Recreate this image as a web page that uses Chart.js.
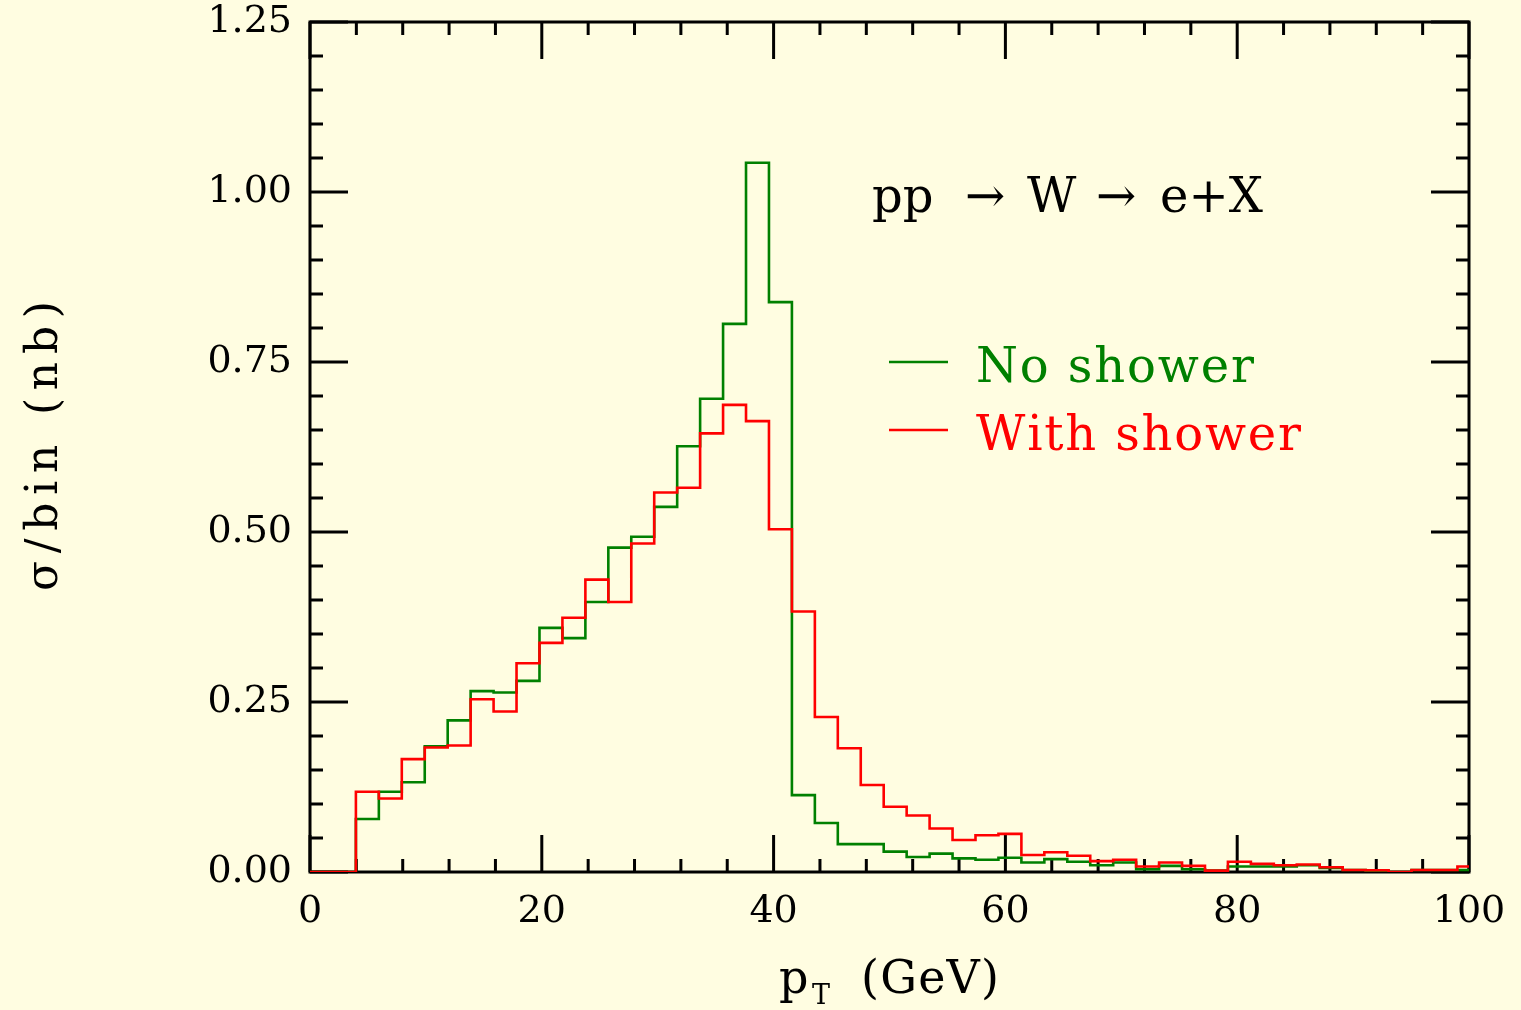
<!DOCTYPE html>
<html>
<head>
<meta charset="utf-8">
<script src="https://cdn.jsdelivr.net/npm/chart.js@4.4.0/dist/chart.umd.min.js"></script>
<style>
html,body{margin:0;padding:0;background:#fffde1;overflow:hidden}
canvas{display:block}
</style>
</head>
<body>
<canvas id="c" width="1521" height="1010"></canvas>
<script>
// ---- data ----
// lower bin edges (GeV); last entry is the end of the plotted range
const binEdges = [0, 1.98, 3.96, 5.94, 7.92, 9.9, 11.88, 13.86, 15.84, 17.82,
  19.8, 21.78, 23.76, 25.74, 27.72, 29.7, 31.68, 33.66, 35.64, 37.62,
  39.6, 41.58, 43.56, 45.54, 47.52, 49.5, 51.48, 53.46, 55.44, 57.42,
  59.4, 61.38, 63.36, 65.34, 67.32, 69.3, 71.28, 73.26, 75.24, 77.22,
  79.2, 81.18, 83.16, 85.14, 87.12, 89.1, 91.08, 93.06, 95.04, 97.02,
  99.0, 100];
const noShower = [0, 0, 0.078, 0.118, 0.132, 0.185, 0.223, 0.266, 0.264, 0.281,
  0.359, 0.344, 0.397, 0.477, 0.493, 0.537, 0.626, 0.696, 0.806, 1.043,
  0.838, 0.113, 0.072, 0.041, 0.041, 0.030, 0.022, 0.027, 0.020, 0.018,
  0.021, 0.014, 0.019, 0.015, 0.010, 0.014, 0.004, 0.009, 0.004, 0.002,
  0.008, 0.008, 0.008, 0.010, 0.006, 0.003, 0.002, 0.000, 0.003, 0.003,
  0.003];
const withShower = [0, 0, 0.118, 0.108, 0.166, 0.183, 0.186, 0.254, 0.236, 0.307,
  0.337, 0.374, 0.430, 0.397, 0.483, 0.558, 0.565, 0.645, 0.687, 0.663,
  0.504, 0.383, 0.228, 0.182, 0.128, 0.096, 0.083, 0.064, 0.047, 0.054,
  0.056, 0.025, 0.029, 0.024, 0.016, 0.018, 0.008, 0.014, 0.009, 0.002,
  0.015, 0.012, 0.010, 0.011, 0.007, 0.003, 0.0025, 0.000, 0.003, 0.003,
  0.008];
const seriesLabels = ['No shower', 'With shower'];
const seriesColors = ['#008000', '#ff0000'];
const xTickValues = [0, 20, 40, 60, 80, 100];
const yTickValues = [0, 0.25, 0.5, 0.75, 1.0, 1.25];
const xMinorStep = 4;
const yMinorStep = 0.05;
const processParts = ['pp', '→', 'W', '→', 'e+X'];
const yTitle = 'σ/bin (nb)';
const xTitleMain = 'p', xTitleSub = 'T', xTitleUnit = '(GeV)';

function toSteps(vals) {
  const pts = vals.map((v, i) => ({x: binEdges[i], y: v}));
  pts.push({x: binEdges[vals.length], y: vals[vals.length - 1]});
  return pts;
}

const SERIF = '"DejaVu Serif", serif';

function spacedText(ctx, text, x, y, width) {
  const chars = [...text];
  const w = chars.map(c => ctx.measureText(c).width);
  const nat = w.reduce((a, b) => a + b, 0);
  const sp = chars.length > 1 ? (width - nat) / (chars.length - 1) : 0;
  let cx = x;
  chars.forEach((c, i) => { ctx.fillText(c, cx, y); cx += w[i] + sp; });
}

const decor = {
  id: 'decor',
  beforeDraw(chart) {
    const ctx = chart.ctx;
    ctx.save();
    ctx.fillStyle = '#fffde1';
    ctx.fillRect(0, 0, chart.width, chart.height);
    ctx.restore();
  },
  beforeDatasetsDraw(chart) {
    const ctx = chart.ctx;
    const a = chart.chartArea, xs = chart.scales.x, ys = chart.scales.y;
    ctx.save();
    ctx.strokeStyle = '#000';
    ctx.lineWidth = 3;
    ctx.beginPath();
    for (let v = xs.min; v <= xs.max + 1e-9; v += xMinorStep) {
      const px = xs.getPixelForValue(v);
      const major = xTickValues.some(t => Math.abs(t - v) < 1e-6);
      const L = major ? 37 : 13;
      ctx.moveTo(px, a.bottom); ctx.lineTo(px, a.bottom - L);
      ctx.moveTo(px, a.top); ctx.lineTo(px, a.top + L);
    }
    for (let i = 0; i * yMinorStep <= ys.max + 1e-9; i++) {
      const v = i * yMinorStep;
      const py = ys.getPixelForValue(v);
      const major = yTickValues.some(t => Math.abs(t - v) < 1e-6);
      const L = major ? 38 : 13;
      ctx.moveTo(a.left, py); ctx.lineTo(a.left + L, py);
      ctx.moveTo(a.right, py); ctx.lineTo(a.right - L, py);
    }
    ctx.stroke();
    ctx.strokeRect(a.left, a.top, a.right - a.left, a.bottom - a.top);
    ctx.restore();
  },
  afterDraw(chart) {
    const ctx = chart.ctx;
    ctx.save();
    ctx.textAlign = 'left';
    ctx.textBaseline = 'alphabetic';
    ctx.fillStyle = '#000';
    ctx.font = '48px ' + SERIF;
    const px = [872, 965, 1027, 1096, 1160];
    processParts.forEach((t, i) => ctx.fillText(t, px[i], 212));
    const ds = chart.data.datasets;
    const legY = [362, 430];
    const legW = [278, 325];
    ds.forEach((d, i) => {
      ctx.strokeStyle = d.borderColor;
      ctx.lineWidth = 2.5;
      ctx.beginPath();
      ctx.moveTo(889, legY[i]); ctx.lineTo(948, legY[i]);
      ctx.stroke();
      ctx.fillStyle = d.borderColor;
      ctx.font = '48px ' + SERIF;
      spacedText(ctx, d.label, 976, legY[i] + 20, legW[i]);
    });
    ctx.fillStyle = '#000';
    ctx.font = '46px ' + SERIF;
    ctx.fillText(xTitleMain, 779, 993);
    ctx.font = '27px ' + SERIF;
    ctx.fillText(xTitleSub, 812, 1004);
    ctx.font = '46px ' + SERIF;
    spacedText(ctx, xTitleUnit, 861, 993, 138);
    ctx.translate(57, 445);
    ctx.rotate(-Math.PI / 2);
    ctx.font = '44px ' + SERIF;
    spacedText(ctx, yTitle, -146, 0, 290);
    ctx.restore();
  }
};

new Chart(document.getElementById('c'), {
  type: 'line',
  data: {
    datasets: [
      {label: seriesLabels[0], data: toSteps(noShower), borderColor: seriesColors[0], order: 1},
      {label: seriesLabels[1], data: toSteps(withShower), borderColor: seriesColors[1], order: 0}
    ].map(d => Object.assign(d, {
      stepped: true, borderWidth: 2.6, pointRadius: 0, pointHoverRadius: 0,
      fill: false, tension: 0, borderJoinStyle: 'miter', borderCapStyle: 'butt'
    }))
  },
  options: {
    responsive: false,
    animation: false,
    events: [],
    layout: {padding: {left: 0, top: 22, right: 52, bottom: 0}},
    plugins: {legend: {display: false}, tooltip: {enabled: false}, title: {display: false}},
    scales: {
      x: {
        type: 'linear', min: 0, max: 100,
        afterBuildTicks: s => { s.ticks = xTickValues.map(v => ({value: v})); },
        afterFit: s => { s.height = 138; s.paddingLeft = 0; s.paddingRight = 0; },
        grid: {display: false, drawTicks: false},
        border: {display: false},
        ticks: {
          color: '#000', font: {family: SERIF, size: 38}, padding: 17,
          maxRotation: 0, autoSkip: false, callback: v => String(v)
        }
      },
      y: {
        type: 'linear', min: 0, max: 1.25,
        afterBuildTicks: s => { s.ticks = yTickValues.map(v => ({value: v})); },
        afterFit: s => { s.width = 310; s.paddingTop = 0; s.paddingBottom = 0; },
        grid: {display: false, drawTicks: false},
        border: {display: false},
        ticks: {
          color: '#000', font: {family: SERIF, size: 38}, padding: 18,
          autoSkip: false, callback: v => Number(v).toFixed(2)
        }
      }
    }
  },
  plugins: [decor]
});
</script>
</body>
</html>
